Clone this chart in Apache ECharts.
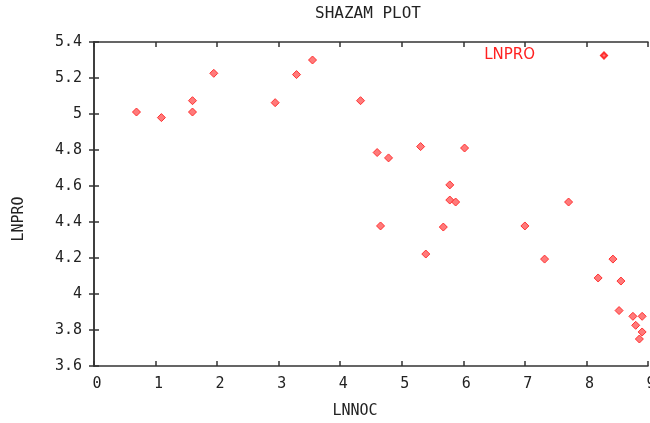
<!DOCTYPE html>
<html>
<head>
<meta charset="utf-8">
<script src="https://cdn.jsdelivr.net/npm/echarts@6/dist/echarts.min.js"></script>
<style>
  html, body { margin: 0; padding: 0; background: #fff; }
  #chart { width: 650px; height: 423px; }
</style>
</head>
<body>
<div id="chart"></div>
<script>
// values
var lnnoc = [0.69, 1.095, 1.60, 1.60, 1.946, 2.943, 3.29, 3.55, 4.33, 4.60,
             4.785, 5.306, 6.02, 5.78, 4.655, 5.78, 5.875, 5.675, 5.39, 7.0,
             7.71, 7.32, 8.43, 8.19, 8.56, 8.53, 8.755, 8.905, 8.80, 8.905, 8.86];
var lnpro = [5.011, 4.98, 5.074, 5.011, 5.226, 5.063, 5.219, 5.30, 5.074, 4.786,
             4.756, 4.819, 4.811, 4.606, 4.378, 4.522, 4.511, 4.372, 4.222, 4.378,
             4.511, 4.194, 4.194, 4.089, 4.072, 3.908, 3.876, 3.876, 3.826, 3.789, 3.750];

var points = [];
for (var i = 0; i < lnnoc.length; i++) {
  points.push([lnnoc[i], lnpro[i]]);
}

var font = 'DejaVu Sans Mono';
var frame = { show: true, lineStyle: { color: '#333', width: 1.5 } };
var ticks = { show: true, inside: true, length: 5, lineStyle: { color: '#333', width: 1.5 } };

var chart = echarts.init(document.getElementById('chart'));

var option = {
  animation: false,
  title: {
    text: 'SHAZAM PLOT',
    left: 310,
    top: 1,
    textStyle: { fontFamily: font, fontSize: 16, fontWeight: 'normal', color: '#222' }
  },
  legend: {
    right: 37,
    top: 43,
    align: 'right',
    itemWidth: 6,
    itemHeight: 6,
    icon: 'diamond',
    data: ['LNPRO'],
    textStyle: { fontFamily: 'DejaVu Sans', fontSize: 15, color: '#ff2020', padding: [0, 61, 0, 0] }
  },
  grid: { left: 94, right: 2, top: 42, bottom: 57, outerBoundsMode: 'none' },
  xAxis: [{
    type: 'value',
    min: 0, max: 9, interval: 1,
    name: 'LNNOC',
    nameLocation: 'middle',
    nameGap: 38,
    nameTextStyle: { fontFamily: font, fontSize: 15, color: '#222', padding: [0, 32, 0, 0] },
    axisLine: frame,
    axisTick: ticks,
    axisLabel: { margin: 11, fontFamily: font, fontSize: 15, color: '#222', padding: [0, 0, 0, 6] },
    splitLine: { show: false }
  }, {
    type: 'value', position: 'top',
    min: 0, max: 9, interval: 1,
    axisLine: frame, axisTick: ticks,
    axisLabel: { show: false }, splitLine: { show: false }
  }],
  yAxis: [{
    type: 'value',
    min: 3.6, max: 5.4, interval: 0.2,
    name: 'LNPRO',
    nameLocation: 'middle',
    nameGap: 67,
    nameTextStyle: { fontFamily: font, fontSize: 15, color: '#222', padding: [0, 30, 0, 0] },
    axisLine: frame,
    axisTick: ticks,
    axisLabel: { margin: 12, fontFamily: font, fontSize: 15, color: '#222' },
    splitLine: { show: false }
  }, {
    type: 'value', position: 'right',
    min: 3.6, max: 5.4, interval: 0.2,
    axisLine: frame, axisTick: ticks,
    axisLabel: { show: false }, splitLine: { show: false }
  }],
  series: [{
    name: 'LNPRO',
    type: 'scatter',
    symbol: 'diamond',
    symbolSize: 8,
    itemStyle: { color: '#ff7a7a', borderColor: '#ff3030', borderWidth: 1, opacity: 1 },
    data: points
  }]
};

chart.setOption(option);
</script>
</body>
</html>
